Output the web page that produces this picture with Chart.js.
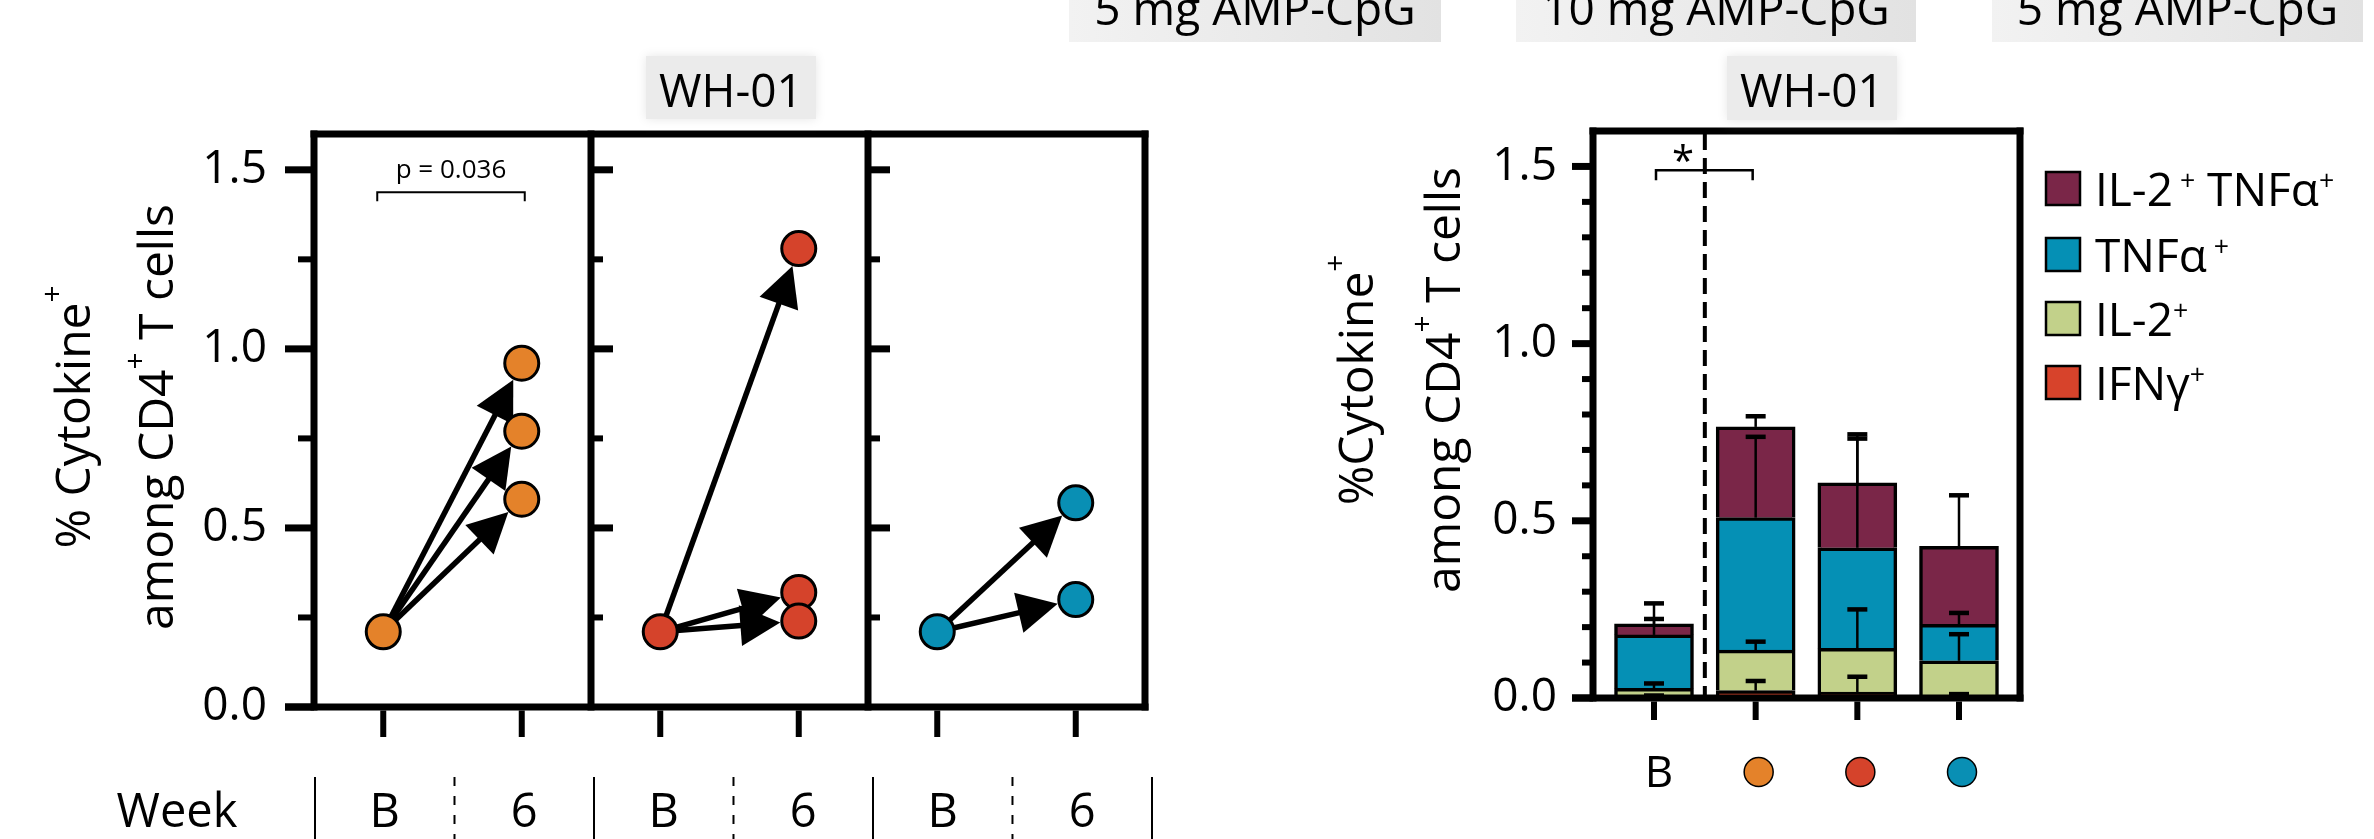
<!DOCTYPE html>
<html><head><meta charset="utf-8">
<script src="https://cdn.jsdelivr.net/npm/chart.js@4.4.1/dist/chart.umd.min.js"></script>
<style>
html,body{margin:0;padding:0;background:#fff;width:2374px;height:839px;overflow:hidden}
canvas{position:absolute;left:0;top:0}
</style></head><body>
<canvas id="leftChart" width="2374" height="839" style="width:2374px;height:839px"></canvas>
<canvas id="rightChart" width="2374" height="839" style="width:2374px;height:839px"></canvas>
<script>
// ---------------- data ----------------
const bannerLabels = ['5 mg AMP-CpG', '10 mg AMP-CpG', '5 mg AMP-CpG'];
const panelTitle = 'WH-01';
const weekLabels = ['B', '6'];
const groupColors = ['#e4822a', '#d5432b', '#098fb4'];
const baselineValues = [0.21, 0.21, 0.21];
const week6Orange = [0.96, 0.77, 0.58];
const week6Red = [1.28, 0.32, 0.24];
const week6Blue = [0.57, 0.30];
const yTickLabels = ['0.0', '0.5', '1.0', '1.5'];
const yMajorTicks = [0, 0.5, 1.0, 1.5];
const leftMinorTicks = [0.25, 0.75, 1.25];
const rightMinorTicks = [0.1, 0.2, 0.3, 0.4, 0.6, 0.7, 0.8, 0.9, 1.1, 1.2, 1.3, 1.4];
const pValueText = 'p = 0.036';

const barCategories = ['B', 'orange', 'red', 'blue'];
const ifngValues = [0.002, 0.021, 0.017, 0.003];
const il2Values  = [0.025, 0.114, 0.123, 0.102];
const tnfValues  = [0.151, 0.374, 0.284, 0.103];
const dpValues   = [0.031, 0.256, 0.183, 0.220];
const ifngErr = [0.005, 0.027, 0.043, 0.008];
const il2Err  = [0.014, 0.024, 0.110, 0.075];
const tnfErr  = [0.045, 0.228, 0.308, 0.032];
const dpErr   = [0.058, 0.030, 0.137, 0.144];
const seriesColors = ['#d7432b', '#c2d18a', '#0590b5', '#7a2648'];
const seriesNames = ['IFNγ+', 'IL-2+', 'TNFα+', 'IL-2+TNFα+'];

// ---------------- helpers ----------------
const FAM = '"Open Sans", "Noto Sans", sans-serif';
const font = s => s + 'px ' + FAM;
function line(ctx, x1, y1, x2, y2) { ctx.beginPath(); ctx.moveTo(x1, y1); ctx.lineTo(x2, y2); ctx.stroke(); }
function drawRich(ctx, parts, x, y, size, align, supScale, raise) {
  supScale = supScale || 0.62; raise = raise || 0.58;
  let w = 0;
  parts.forEach(p => { ctx.font = font(p.sup ? size * supScale : size); w += ctx.measureText(p.t).width; });
  let cx = align === 'center' ? x - w / 2 : (align === 'right' ? x - w : x);
  ctx.textAlign = 'left'; ctx.textBaseline = 'alphabetic';
  parts.forEach(p => {
    ctx.font = font(p.sup ? size * supScale : size);
    ctx.fillText(p.t, cx, p.sup ? y - size * raise : y);
    cx += ctx.measureText(p.t).width;
  });
}
function drawArrow(ctx, x0, y0, x1, y1) {
  const dx = x1 - x0, dy = y1 - y0, L = Math.hypot(dx, dy);
  const ux = dx / L, uy = dy / L, nx = -uy, ny = ux;
  const tx = x1 - ux * 18.5, ty = y1 - uy * 18.5;
  const bx = tx - ux * 40, by = ty - uy * 40;
  ctx.lineWidth = 5.5;
  line(ctx, x0, y0, bx + ux * 4, by + uy * 4);
  ctx.beginPath();
  ctx.moveTo(tx, ty);
  ctx.lineTo(bx + nx * 20.5, by + ny * 20.5);
  ctx.lineTo(bx - nx * 20.5, by - ny * 20.5);
  ctx.closePath(); ctx.fill();
}
function grayBox(ctx, x1, y1, x2, y2, gradient) {
  ctx.save();
  if (gradient) {
    const g = ctx.createLinearGradient(x1, 0, x2, 0);
    g.addColorStop(0, '#f2f2f2'); g.addColorStop(1, '#e2e2e2');
    ctx.fillStyle = g;
    ctx.fillRect(x1, y1, x2 - x1, y2 - y1);
  } else {
    ctx.shadowColor = '#e6e6e6'; ctx.shadowBlur = 10;
    ctx.fillStyle = '#ebebeb';
    ctx.fillRect(x1 + 3, y1 + 3, x2 - x1 - 6, y2 - y1 - 6);
  }
  ctx.restore();
}

const week6Sets = [week6Orange, week6Red, week6Blue];

// ---------------- left chart decorations ----------------
const leftDecor = {
  id: 'leftDecor',
  beforeDatasetsDraw(chart) {
    const {ctx, scales: {x, y}} = chart;
    ctx.save(); ctx.fillStyle = '#000'; ctx.strokeStyle = '#000';
    week6Sets.forEach((vals, p) => {
      const x0 = x.getPixelForValue(2 * p + 0.5), y0 = y.getPixelForValue(baselineValues[p]);
      const x1 = x.getPixelForValue(2 * p + 1.5);
      vals.forEach(v => drawArrow(ctx, x0, y0, x1, y.getPixelForValue(v)));
    });
    ctx.restore();
  },
  afterDatasetsDraw(chart) {
    const {ctx, chartArea: a, scales: {x, y, xw}} = chart;
    ctx.save();
    ctx.strokeStyle = '#000'; ctx.fillStyle = '#000'; ctx.lineCap = 'butt';
    // frame
    ctx.lineWidth = 7;
    const vl = [0, 2, 4, 6].map(v => x.getPixelForValue(v));
    vl.forEach(px => line(ctx, px, a.top - 3.5, px, a.bottom + 3.5));
    line(ctx, a.left - 3.5, a.top, a.right + 3.5, a.top);
    line(ctx, a.left - 29, a.bottom, a.right + 3.5, a.bottom);
    // y ticks panel 1 (outward)
    yMajorTicks.forEach(v => { ctx.lineWidth = 7; const py = y.getPixelForValue(v); line(ctx, a.left - 29, py, a.left, py); });
    leftMinorTicks.forEach(v => { ctx.lineWidth = 6; const py = y.getPixelForValue(v); line(ctx, a.left - 16, py, a.left, py); });
    // panels 2,3 (inward)
    [vl[1], vl[2]].forEach(xd => {
      yMajorTicks.slice(1).forEach(v => { ctx.lineWidth = 7; const py = y.getPixelForValue(v); line(ctx, xd, py, xd + 22, py); });
      leftMinorTicks.forEach(v => { ctx.lineWidth = 6; const py = y.getPixelForValue(v); line(ctx, xd, py, xd + 12, py); });
    });
    // x ticks
    ctx.lineWidth = 6;
    [0.5, 1.5, 2.5, 3.5, 4.5, 5.5].forEach(v => { const px = x.getPixelForValue(v); line(ctx, px, a.bottom + 3.5, px, 737); });
    // p-value bracket
    const bx0 = x.getPixelForValue(0.5) - 6, bx1 = x.getPixelForValue(1.5) + 3, by = y.getPixelForValue(1.437);
    ctx.lineWidth = 2;
    ctx.beginPath(); ctx.moveTo(bx0, by + 9); ctx.lineTo(bx0, by); ctx.lineTo(bx1, by); ctx.lineTo(bx1, by + 9); ctx.stroke();
    ctx.font = font(26); ctx.textAlign = 'center'; ctx.textBaseline = 'alphabetic';
    ctx.fillText(pValueText, (bx0 + bx1) / 2, by - 14);
    // Week row
    ctx.font = font(47); ctx.textAlign = 'center';
    ctx.fillText('Week', 177, 827);
    for (let p = 0; p < 3; p++) {
      ctx.fillText(weekLabels[0], xw.getPixelForValue(2 * p + 0.5), 827);
      ctx.fillText(weekLabels[1], xw.getPixelForValue(2 * p + 1.5), 827);
    }
    ctx.lineWidth = 2;
    [0, 2, 4, 6].forEach(v => { const px = xw.getPixelForValue(v); line(ctx, px, 777, px, 839); });
    ctx.setLineDash([9, 10]);
    [1, 3, 5].forEach(v => { const px = xw.getPixelForValue(v); line(ctx, px, 777, px, 839); });
    ctx.setLineDash([]);
    // y title
    ctx.save(); ctx.translate(90, 417); ctx.rotate(-Math.PI / 2);
    drawRich(ctx, [{t: '% Cytokine'}, {t: '+', sup: true}], 0, 0, 48, 'center');
    ctx.restore();
    ctx.save(); ctx.translate(173, 417); ctx.rotate(-Math.PI / 2);
    drawRich(ctx, [{t: 'among CD4'}, {t: '+', sup: true}, {t: ' T cells'}], 0, 0, 48, 'center');
    ctx.restore();
    // banners
    const boxes = [[1069, 1441], [1516, 1916], [1992, 2363]];
    boxes.forEach((b, i) => {
      grayBox(ctx, b[0], 0, b[1], 42, true);
      ctx.fillStyle = '#000'; ctx.font = font(46); ctx.textAlign = 'center'; ctx.textBaseline = 'alphabetic';
      ctx.fillText(bannerLabels[i], (b[0] + b[1]) / 2, 25);
    });
    // header
    grayBox(ctx, 643, 53, 819, 122, false);
    ctx.fillStyle = '#000'; ctx.font = font(46); ctx.textAlign = 'center';
    ctx.fillText(panelTitle, 731, 107);
    ctx.restore();
  }
};

// ---------------- right chart decorations ----------------
const rightDecor = {
  id: 'rightDecor',
  afterDatasetsDraw(chart) {
    const {ctx, chartArea: a, scales: {x, y}} = chart;
    ctx.save();
    ctx.strokeStyle = '#000'; ctx.fillStyle = '#000'; ctx.lineCap = 'butt';
    const stacks = [ifngValues, il2Values, tnfValues, dpValues];
    const errs = [ifngErr, il2Err, tnfErr, dpErr];
    barCategories.forEach((c, j) => {
      let cum = 0;
      const px = x.getPixelForValue(j);
      stacks.forEach((vals, i) => {
        cum += vals[j];
        const y0 = y.getPixelForValue(cum), y1 = y.getPixelForValue(cum + errs[i][j]);
        ctx.lineWidth = 2.5; line(ctx, px, y0, px, y1);
        ctx.lineWidth = 4.5; line(ctx, px - 10, y1, px + 10, y1);
      });
    });
    // dashed separator
    const xd = x.getPixelForValue(0.5);
    ctx.lineWidth = 4; ctx.setLineDash([16, 8]);
    line(ctx, xd, a.top + 3, xd, a.bottom);
    ctx.setLineDash([]);
    // frame
    ctx.lineWidth = 7;
    line(ctx, a.left, a.top - 3.5, a.left, a.bottom + 3.5);
    line(ctx, a.right, a.top - 3.5, a.right, a.bottom + 3.5);
    line(ctx, a.left - 3.5, a.top, a.right + 3.5, a.top);
    line(ctx, a.left - 21, a.bottom, a.right + 3.5, a.bottom);
    yMajorTicks.forEach(v => { ctx.lineWidth = 7; const py = y.getPixelForValue(v); line(ctx, a.left - 21, py, a.left, py); });
    rightMinorTicks.forEach(v => { ctx.lineWidth = 6; const py = y.getPixelForValue(v); line(ctx, a.left - 11, py, a.left, py); });
    ctx.lineWidth = 6;
    barCategories.forEach((c, j) => { const px = x.getPixelForValue(j); line(ctx, px, a.bottom + 3.5, px, 720); });
    // significance bracket
    const b0 = x.getPixelForValue(0) + 2, b1 = x.getPixelForValue(1) - 3, by = y.getPixelForValue(1.489);
    ctx.lineWidth = 2.5;
    ctx.beginPath(); ctx.moveTo(b0, by + 10); ctx.lineTo(b0, by); ctx.lineTo(b1, by); ctx.lineTo(b1, by + 10); ctx.stroke();
    ctx.font = font(40); ctx.textAlign = 'center'; ctx.textBaseline = 'alphabetic';
    ctx.fillText('*', b0 + 0.28 * (b1 - b0), by + 5);
    ctx.restore();
  },
  afterDraw(chart) {
    const {ctx, scales: {x}} = chart;
    ctx.save();
    ctx.fillStyle = '#000'; ctx.strokeStyle = '#000';
    // category labels
    ctx.font = font(44); ctx.textAlign = 'center'; ctx.textBaseline = 'alphabetic';
    ctx.fillText('B', x.getPixelForValue(0) + 5, 787);
    for (let j = 1; j < barCategories.length; j++) {
      ctx.beginPath(); ctx.arc(x.getPixelForValue(j) + 3, 772, 14.5, 0, Math.PI * 2);
      ctx.fillStyle = groupColors[j - 1]; ctx.fill();
      ctx.lineWidth = 1.5; ctx.stroke();
    }
    // legend
    const rows = [
      {c: seriesColors[3], parts: [{t: 'IL-2'}, {t: ' +', sup: true}, {t: ' TNFα'}, {t: '+', sup: true}]},
      {c: seriesColors[2], parts: [{t: 'TNFα'}, {t: ' +', sup: true}]},
      {c: seriesColors[1], parts: [{t: 'IL-2'}, {t: '+', sup: true}]},
      {c: seriesColors[0], parts: [{t: 'IFNγ'}, {t: '+', sup: true}]}
    ];
    const tops = [172, 238, 302, 366];
    rows.forEach((r, i) => {
      ctx.fillStyle = r.c; ctx.fillRect(2046, tops[i], 34, 33);
      ctx.lineWidth = 2.5; ctx.strokeStyle = '#000'; ctx.strokeRect(2046, tops[i], 34, 33);
      ctx.fillStyle = '#000';
      drawRich(ctx, r.parts, 2095, tops[i] + 34, 46, 'left', 0.58, 0.34);
    });
    // y title
    ctx.fillStyle = '#000';
    ctx.save(); ctx.translate(1373, 380); ctx.rotate(-Math.PI / 2);
    drawRich(ctx, [{t: '%Cytokine'}, {t: '+', sup: true}], 0, 0, 48, 'center');
    ctx.restore();
    ctx.save(); ctx.translate(1460, 380); ctx.rotate(-Math.PI / 2);
    drawRich(ctx, [{t: 'among CD4'}, {t: '+', sup: true}, {t: ' T cells'}], 0, 0, 48, 'center');
    ctx.restore();
    // header
    grayBox(ctx, 1724, 53, 1900, 123, false);
    ctx.fillStyle = '#000'; ctx.font = font(46); ctx.textAlign = 'center'; ctx.textBaseline = 'alphabetic';
    ctx.fillText(panelTitle, 1812, 107);
    ctx.restore();
  }
};

function init() {
  Chart.defaults.font.family = FAM;
  Chart.defaults.color = '#000';

  new Chart(document.getElementById('leftChart'), {
    type: 'scatter',
    data: {
      datasets: week6Sets.map((vals, p) => ({
        data: [{x: 2 * p + 0.5, y: baselineValues[p]}].concat(vals.map(v => ({x: 2 * p + 1.5, y: v}))),
        backgroundColor: groupColors[p], borderColor: '#000', borderWidth: 3,
        pointRadius: 17, pointHoverRadius: 17, showLine: false, clip: false
      }))
    },
    options: {
      responsive: false, animation: false, devicePixelRatio: 1, events: [],
      layout: {padding: {left: 0, top: 134, right: 2374 - 1145, bottom: 0}},
      plugins: {legend: {display: false}, tooltip: {enabled: false}},
      scales: {
        x: {type: 'linear', min: 0, max: 6, bounds: 'data', grid: {display: false}, border: {display: false},
            ticks: {display: false}, afterFit: s => { s.height = 839 - 707; }},
        xw: {type: 'linear', axis: 'x', position: 'bottom', display: false, min: -0.0072, max: 5.95, bounds: 'data'},
        y: {type: 'linear', min: 0, max: 1.6, grid: {display: false}, border: {display: false},
            ticks: {stepSize: 0.5, includeBounds: false, padding: 39, color: '#000', font: {family: FAM, size: 46},
                    callback: v => yTickLabels[Math.round(v / 0.5)]},
            afterFit: s => { s.width = 314; }}
      }
    },
    plugins: [leftDecor]
  });

  const stacks = [ifngValues, il2Values, tnfValues, dpValues];
  new Chart(document.getElementById('rightChart'), {
    type: 'bar',
    data: {
      datasets: stacks.map((vals, i) => ({
        label: seriesNames[i],
        data: vals.map((v, j) => ({x: j, y: v})),
        backgroundColor: seriesColors[i], borderColor: '#000',
        borderWidth: {top: 3.5, left: 3.5, right: 3.5, bottom: 0}, borderSkipped: false,
        barThickness: 79
      }))
    },
    options: {
      responsive: false, animation: false, devicePixelRatio: 1, events: [],
      layout: {padding: {left: 1593 - 200, top: 131, right: 2374 - 2020, bottom: 0}},
      plugins: {legend: {display: false}, tooltip: {enabled: false}},
      scales: {
        x: {type: 'linear', stacked: true, min: -0.6, max: 3.6, bounds: 'data', offset: false,
            grid: {display: false}, border: {display: false}, ticks: {display: false},
            afterFit: s => { s.height = 839 - 698; }},
        y: {type: 'linear', stacked: true, min: 0, max: 1.6, grid: {display: false}, border: {display: false},
            ticks: {stepSize: 0.5, includeBounds: false, padding: 28, color: '#000', font: {family: FAM, size: 46},
                    callback: v => yTickLabels[Math.round(v / 0.5)]},
            afterFit: s => { s.width = 200; }}
      }
    },
    plugins: [rightDecor]
  });
}

Promise.all([
  document.fonts.load('46px "Open Sans"'),
  document.fonts.load('26px "Open Sans"')
]).then(init, init);
</script>
</body></html>
